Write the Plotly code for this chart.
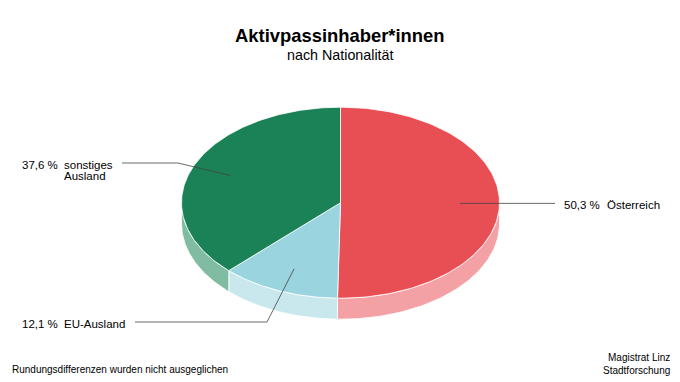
import numpy as np
import plotly.graph_objects as go

# ---- data ----
categories = [["Österreich"], ["EU-Ausland"], ["sonstiges", "Ausland"]]
values = [50.3, 12.1, 37.6]
pct_labels = ["50,3 %", "12,1 %", "37,6 %"]
top_colors = ["#E84F55", "#99D4DF", "#1B8157"]
side_colors = ["#F3A1A4", "#C8E8ED", "#80BCA1"]

title = "Aktivpassinhaber*innen"
subtitle = "nach Nationalität"
note_left = "Rundungsdifferenzen wurden nicht ausgeglichen"
note_right = ["Magistrat Linz", "Stadtforschung"]

# ---- geometry (pixel-space axes) ----
CX, CY, RX, RY, DEPTH = 340.5, 202.7, 159.0, 95.5, 21.0
FONT = "Liberation Sans, Arial, sans-serif"


def pt(t_deg, r=1.0, dy=0.0):
    t = np.radians(t_deg)
    return CX + r * RX * np.sin(t), CY - r * RY * np.cos(t) + dy


fig = go.Figure()

total = sum(values)
bounds = np.concatenate([[0], np.cumsum(values)]) / total * 360.0

# sides (front half: 90..270 deg)
for i in range(len(values)):
    a0, a1 = max(bounds[i], 90), min(bounds[i + 1], 270)
    if a1 <= a0:
        continue
    ts = np.linspace(a0, a1, 80)
    xt, yt = pt(ts)
    xb, yb = pt(ts[::-1], dy=DEPTH)
    fig.add_trace(go.Scatter(
        x=np.concatenate([xt, xb, xt[:1]]), y=np.concatenate([yt, yb, yt[:1]]),
        fill="toself", fillcolor=side_colors[i], mode="lines",
        line=dict(color="white", width=0.8), hoverinfo="skip", showlegend=False))

# top faces
for i in range(len(values)):
    ts = np.linspace(bounds[i], bounds[i + 1], 150)
    xe, ye = pt(ts)
    fig.add_trace(go.Scatter(
        x=np.concatenate([[CX], xe, [CX]]), y=np.concatenate([[CY], ye, [CY]]),
        fill="toself", fillcolor=top_colors[i], mode="lines",
        line=dict(color="white", width=0.8), hoverinfo="skip", showlegend=False))

# label placement (layout)
kinks = [None, (267, 322), (178, 163)]
ends = [(555, None), (135, 322), (122, 163)]
pct_x = [562, 20, 20]
name_x = [605, 62, 62]
label_y = [None, 322, 163]
LINE_H = 11.5
LFS = 11.5

annotations = []


def txt(x, y, s, size=LFS, anchor="left"):
    annotations.append(dict(x=x, y=y, text=s, xanchor=anchor, yanchor="middle",
                            showarrow=False,
                            font=dict(size=size, color="#000", family=FONT)))


for i in range(len(values)):
    mid = (bounds[i] + bounds[i + 1]) / 2
    ax_, ay_ = pt(mid, r=0.75)
    xs, ys = [ax_], [ay_]
    if kinks[i] is None:
        xs.append(ends[i][0]); ys.append(ay_)
        ly = ay_
    else:
        xs += [kinks[i][0], ends[i][0]]
        ys += [kinks[i][1], ends[i][1]]
        ly = label_y[i]
    fig.add_trace(go.Scatter(x=xs, y=ys, mode="lines",
                             line=dict(color="#444444", width=0.8),
                             hoverinfo="skip", showlegend=False))
    ty = ly + 1.5
    txt(pct_x[i], ty, pct_labels[i])
    for k, line in enumerate(categories[i]):
        txt(name_x[i], ty + k * LINE_H, line)

annotations.append(dict(x=340, y=35, text="<b>" + title + "</b>", showarrow=False,
                        xanchor="center", yanchor="middle",
                        font=dict(size=18.4, color="#000", family=FONT)))
txt(340, 55, subtitle, size=14.3, anchor="center")
txt(10, 369, note_left, size=10)
txt(672, 357, note_right[0], size=10, anchor="right")
txt(672, 370, note_right[1], size=10, anchor="right")

fig.update_layout(
    width=680, height=382, margin=dict(l=0, r=0, t=0, b=0),
    paper_bgcolor="white", plot_bgcolor="white",
    xaxis=dict(range=[0, 680], visible=False, fixedrange=True),
    yaxis=dict(range=[382, 0], visible=False, fixedrange=True),
    annotations=annotations, showlegend=False,
)

fig.write_html("out.html", config={"displayModeBar": False},
               post_script="document.body.style.margin='0';document.body.style.overflow='hidden';")
